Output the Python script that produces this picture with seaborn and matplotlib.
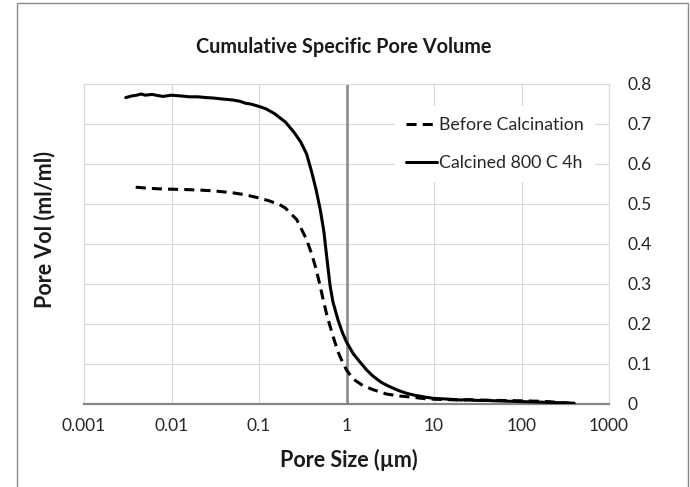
import matplotlib
matplotlib.use("Agg")
import matplotlib.pyplot as plt
import seaborn as sns
import pandas as pd
from matplotlib.patches import Rectangle

# ---- data ----
calc_x = [0.003, 0.0035, 0.004, 0.0045, 0.005, 0.006, 0.007, 0.008, 0.01, 0.013,
          0.016, 0.02, 0.025, 0.03, 0.04, 0.05, 0.06, 0.07, 0.08, 0.1, 0.12, 0.15,
          0.2, 0.25, 0.3, 0.35, 0.4, 0.45, 0.5, 0.55, 0.6, 0.65, 0.7, 0.8, 0.9, 1.0,
          1.2, 1.4, 1.7, 2.0, 2.5, 3, 4, 5, 6, 8, 10, 15, 20, 25, 30, 40, 50, 70,
          100, 150, 200, 300, 400]
calc_y = [0.766, 0.770, 0.772, 0.775, 0.772, 0.774, 0.771, 0.769, 0.772, 0.770,
          0.768, 0.768, 0.766, 0.765, 0.762, 0.760, 0.757, 0.752, 0.750, 0.744, 0.738, 0.726,
          0.705, 0.680, 0.655, 0.625, 0.580, 0.535, 0.487, 0.433, 0.360, 0.295, 0.255, 0.210, 0.178, 0.155,
          0.125, 0.107, 0.085, 0.070, 0.054, 0.045, 0.033, 0.026, 0.022, 0.017, 0.014, 0.012, 0.010, 0.011, 0.009, 0.009, 0.008, 0.007,
          0.006, 0.005, 0.004, 0.003, 0.002]

before_x = [0.0039, 0.005, 0.007, 0.01, 0.015, 0.02, 0.03, 0.05, 0.07, 0.1, 0.13, 0.17,
            0.2, 0.27, 0.35, 0.4, 0.45, 0.5, 0.54, 0.6, 0.7, 0.8, 0.9, 1.0, 1.2, 1.54,
            2, 2.85, 4, 5.7, 8, 10, 20, 30, 50, 100, 150, 200, 300, 350]
before_y = [0.542, 0.540, 0.538, 0.537, 0.536, 0.535, 0.533, 0.528, 0.523, 0.515, 0.508, 0.499,
            0.490, 0.461, 0.411, 0.375, 0.337, 0.295, 0.262, 0.220, 0.170, 0.130, 0.105, 0.085, 0.062, 0.046,
            0.036, 0.025, 0.020, 0.017, 0.013, 0.012, 0.010, 0.010, 0.009, 0.008, 0.007, 0.006, 0.003, 0.002]

label_before = "Before Calcination"
label_calc = "Calcined 800 C 4h"
x_ticks = [0.001, 0.01, 0.1, 1, 10, 100, 1000]
x_ticklabels = ["0.001", "0.01", "0.1", "1", "10", "100", "1000"]
y_ticks = [0, 0.1, 0.2, 0.3, 0.4, 0.5, 0.6, 0.7, 0.8]
y_ticklabels = ["0", "0.1", "0.2", "0.3", "0.4", "0.5", "0.6", "0.7", "0.8"]

sns.set_style("white")
plt.rcParams["font.family"] = ["Lato", "DejaVu Sans"]

fig = plt.figure(figsize=(6.9, 4.87), dpi=100)
ax = fig.add_axes([84/690, 1-404/487, (609-84)/690, (404-84)/487])

grid_c = "#d9d9d9"
axis_c = "#868686"

df_b = pd.DataFrame({"x": before_x, "y": before_y})
df_c = pd.DataFrame({"x": calc_x, "y": calc_y})

ax.axvline(1, color="#8c8c8c", lw=1.9, zorder=1.5)
sns.lineplot(data=df_b, x="x", y="y", ax=ax, color="black", lw=2.2,
             linestyle=(0, (3.3, 2.0)), label=label_before, zorder=3)
sns.lineplot(data=df_c, x="x", y="y", ax=ax, color="black", lw=2.2,
             label=label_calc, zorder=3)

ax.set_xscale("log")
ax.set_xlim(0.001, 1000)
ax.set_ylim(0, 0.8)
ax.set_xticks(x_ticks)
ax.set_xticklabels(x_ticklabels)
ax.minorticks_off()
ax.set_yticks(y_ticks)
ax.set_yticklabels(y_ticklabels)
ax.yaxis.tick_right()
ax.set_xlabel("")
ax.set_ylabel("")

ax.grid(True, color=grid_c, lw=0.8)
ax.set_axisbelow(True)
for s in ["top", "right", "left"]:
    ax.spines[s].set_color(grid_c)
    ax.spines[s].set_linewidth(0.8)
ax.spines["bottom"].set_color(axis_c)
ax.spines["bottom"].set_linewidth(1.6)

ax.tick_params(axis="x", direction="out", length=4, width=1.6, color=axis_c,
               labelsize=12.5, labelcolor="#262626", pad=6)
ax.tick_params(axis="y", length=0, labelsize=12.5, labelcolor="#262626", pad=13,
               labelright=True, labelleft=False)

leg = ax.legend(loc="center left", bbox_to_anchor=((386-84)/525, (404-144)/320),
                frameon=True, fontsize=12.8, handlelength=1.75, handletextpad=0.15,
                labelspacing=1.25, borderpad=0.6)
leg.get_frame().set_facecolor("white")
leg.get_frame().set_edgecolor("none")
leg.get_frame().set_alpha(1)
for t in leg.get_texts():
    t.set_color("#262626")

fig.text(344/690, 1-47/487, "Cumulative Specific Pore Volume", ha="center", va="center",
         fontsize=14.3, fontweight="bold", color="#1a1a1a")
fig.text(349/690, 1-460/487, "Pore Size (\u00b5m)", ha="center", va="center",
         fontsize=15.5, fontweight="bold", color="#1a1a1a")
fig.text(45/690, 1-230/487, "Pore Vol (ml/ml)", ha="center", va="center", rotation=90,
         fontsize=15.5, fontweight="bold", color="#1a1a1a")

fig.patches.append(Rectangle((17/690, -0.05), (688-17)/690, 1.05-3/487,
                             transform=fig.transFigure, fill=False,
                             edgecolor="#8a8a8a", lw=1.0))

fig.savefig("out.png", dpi=100)
